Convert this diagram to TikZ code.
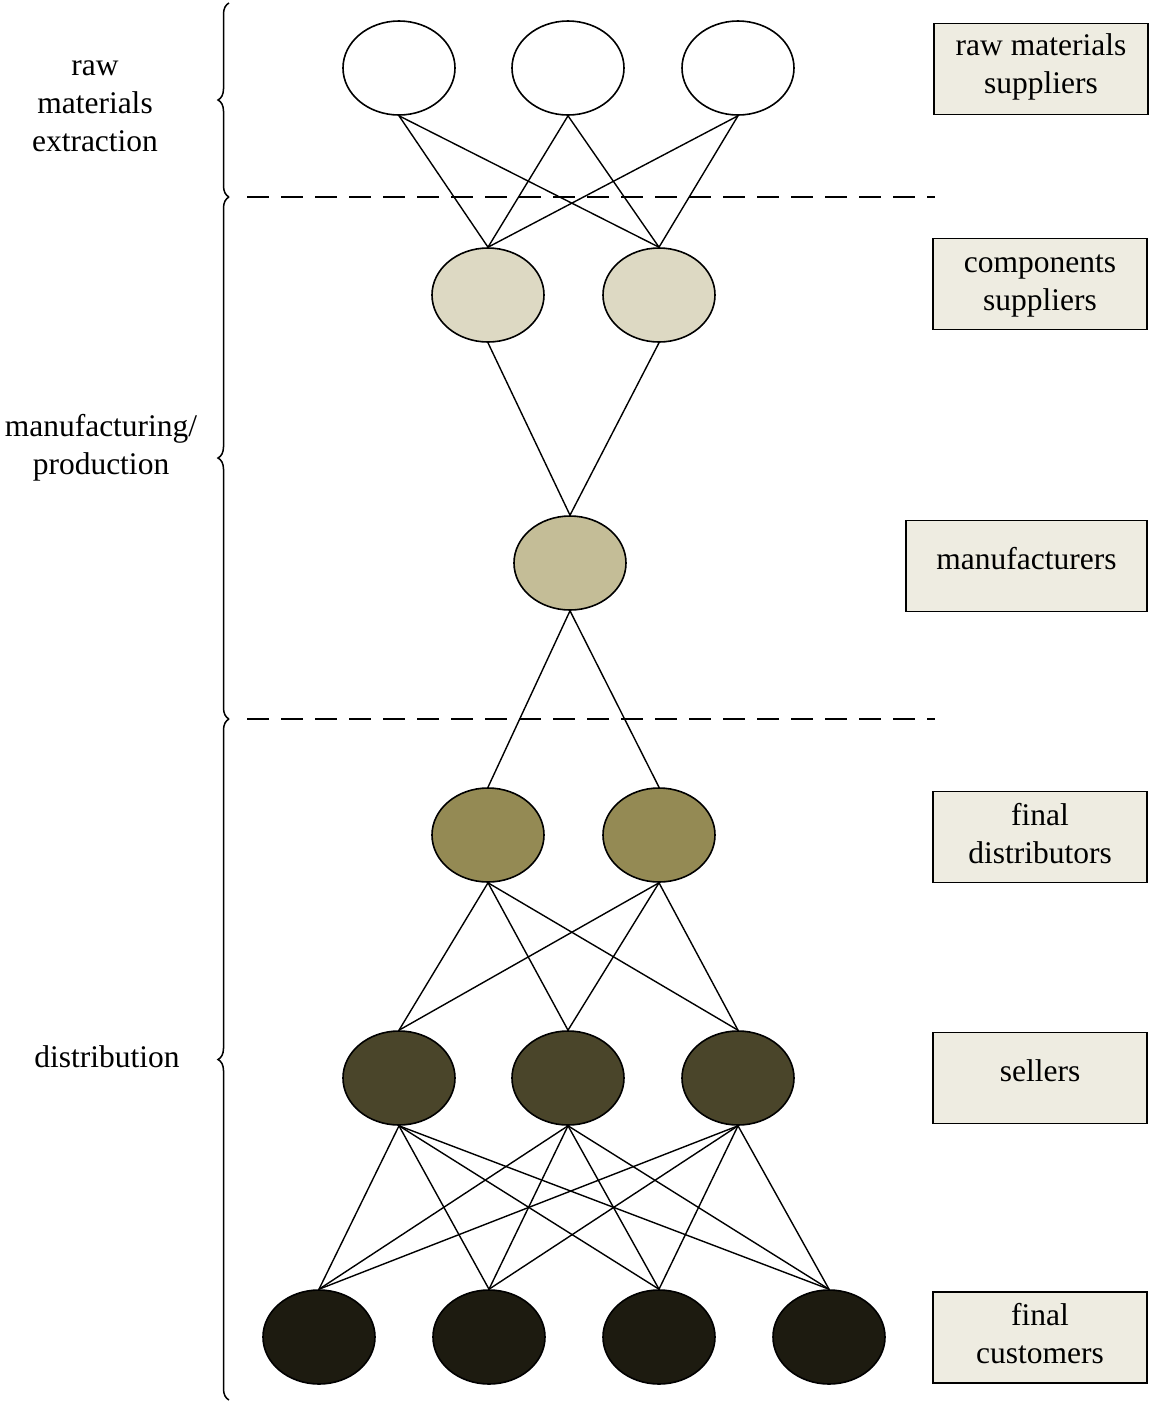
\documentclass[tikz,border=0pt]{standalone}
\usepackage{fontspec}
\setmainfont{Liberation Serif}
\usetikzlibrary{shapes.geometric,decorations.pathreplacing}
\definecolor{boxfill}{HTML}{EEECE1}
\definecolor{cA}{HTML}{FFFFFF}
\definecolor{cB}{HTML}{DDD9C3}
\definecolor{cC}{HTML}{C4BD97}
\definecolor{cD}{HTML}{948A54}
\definecolor{cE}{HTML}{4A452A}
\definecolor{cF}{HTML}{1D1B10}
\tikzset{
  ell/.style={ellipse, draw=black, line width=1.6pt, minimum width=112pt, minimum height=94pt, inner sep=0pt},
  lbox/.style={rectangle, draw=black, line width=1.5pt, fill=boxfill, minimum width=214pt, minimum height=91pt, inner sep=0pt},
  lab/.style={align=center, font=\fontsize{31.5}{38}\selectfont, inner sep=0pt},
  edge/.style={line width=1.4pt},
  sep/.style={dashed, line width=2.6pt, dash pattern=on 22pt off 12pt},
  brc/.style={decorate, decoration={brace, amplitude=11pt, aspect=0.5}, line width=1.5pt}
}
\begin{document}
\begin{tikzpicture}[x=1pt,y=-1pt]
\useasboundingbox (0,0) rectangle (1149,1401);
% ellipses
\node[ell, fill=cA] (r1) at (399,68) {};
\node[ell, fill=cA] (r2) at (568,68) {};
\node[ell, fill=cA] (r3) at (738,68) {};
\node[ell, fill=cB] (c1) at (488,295) {};
\node[ell, fill=cB] (c2) at (659,295) {};
\node[ell, fill=cC] (m1) at (570,563) {};
\node[ell, fill=cD] (d1) at (488,835) {};
\node[ell, fill=cD] (d2) at (659,835) {};
\node[ell, fill=cE] (s1) at (399,1078) {};
\node[ell, fill=cE] (s2) at (568,1078) {};
\node[ell, fill=cE] (s3) at (738,1078) {};
\node[ell, fill=cF] (k1) at (319,1337) {};
\node[ell, fill=cF] (k2) at (489,1337) {};
\node[ell, fill=cF] (k3) at (659,1337) {};
\node[ell, fill=cF] (k4) at (829,1337) {};
% edges
\foreach \a in {r1,r2,r3} \foreach \b in {c1,c2} \draw[edge] (\a.south) -- (\b.north);
\foreach \a in {c1,c2} \draw[edge] (\a.south) -- (m1.north);
\foreach \b in {d1,d2} \draw[edge] (m1.south) -- (\b.north);
\foreach \a in {d1,d2} \foreach \b in {s1,s2,s3} \draw[edge] (\a.south) -- (\b.north);
\foreach \a in {s1,s2,s3} \foreach \b in {k1,k2,k3,k4} \draw[edge] (\a.south) -- (\b.north);
% dashed separators
\coordinate (dA1) at (247,197);
\coordinate (dA2) at (935,197);
\coordinate (dB1) at (247,719);
\coordinate (dB2) at (935,719);
\draw[sep] (dA1) -- (dA2);
\draw[sep] (dB1) -- (dB2);
% braces
\coordinate (b0) at (229,3);
\coordinate (b1) at (229,197);
\coordinate (b2) at (229,719);
\coordinate (b3) at (229,1400);
\draw[brc] (b1) -- (b0);
\draw[brc] (b2) -- (b1);
\draw[brc] (b3) -- (b2);
% left labels
\node[lab] (L1) at (95,106) {raw\\materials\\extraction};
\node[lab] (L2) at (101,448) {manufacturing/\\production};
\node[lab] (L3) at (107,1057) {distribution};
% right boxes
\node[lbox] (B1) at (1041,69) {};
\node[lbox] (B2) at (1040,284) {};
\node[lbox, minimum width=241pt] (B3) at (1026.5,566) {};
\node[lbox] (B4) at (1040,837) {};
\node[lbox] (B5) at (1040,1078) {};
\node[lbox] (B6) at (1040,1337.5) {};
\node[lab] (T1) at (1041,67) {raw materials\\suppliers};
\node[lab] (T2) at (1040,286) {components\\suppliers};
\node[lab] (T3) at (1026.5,559) {manufacturers};
\node[lab] (T4) at (1040,834) {final\\distributors};
\node[lab] (T5) at (1040,1071) {sellers};
\node[lab] (T6) at (1040,1333.5) {final\\customers};
\end{tikzpicture}
\end{document}
